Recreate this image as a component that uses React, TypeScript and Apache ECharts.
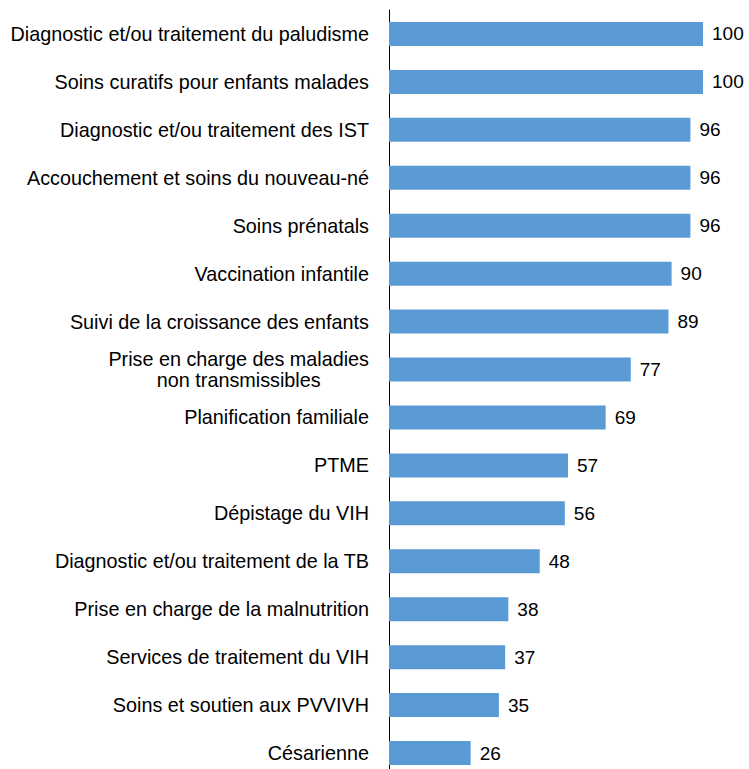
import React, { useEffect, useRef } from "react";
import * as echarts from "echarts";

const categories = [
  "Diagnostic et/ou traitement du paludisme",
  "Soins curatifs pour enfants malades",
  "Diagnostic et/ou traitement des IST",
  "Accouchement et soins du nouveau-né",
  "Soins prénatals",
  "Vaccination infantile",
  "Suivi de la croissance des enfants",
  "Prise en charge des maladies\nnon transmissibles",
  "Planification familiale",
  "PTME",
  "Dépistage du VIH",
  "Diagnostic et/ou traitement de la TB",
  "Prise en charge de la malnutrition",
  "Services de traitement du VIH",
  "Soins et soutien aux PVVIVH",
  "Césarienne",
];

const values = [100, 100, 96, 96, 96, 90, 89, 77, 69, 57, 56, 48, 38, 37, 35, 26];

const FONT = "'Liberation Sans', Arial, sans-serif";

export default function App() {
  const ref = useRef<HTMLDivElement>(null);
  useEffect(() => {
    if (!ref.current) return;
    const chart = echarts.init(ref.current, null, { renderer: "svg" });
    chart.setOption({
      animation: false,
      backgroundColor: "#ffffff",
      grid: { left: 389, top: 10, width: 314, height: 767, containLabel: false },
      xAxis: {
        type: "value",
        min: 0,
        max: 100,
        show: false,
      },
      yAxis: {
        type: "category",
        data: categories,
        inverse: true,
        axisLine: { show: true, lineStyle: { color: "#000000", width: 1 } },
        axisTick: { show: false },
        axisLabel: {
          color: "#000000",
          fontFamily: FONT,
          fontSize: 19.8,
          margin: 20,
          lineHeight: 21,
          formatter: (v: string) =>
            v.indexOf("\n") >= 0
              ? v
                  .split("\n")
                  .map((s) => `{c|${s}}`)
                  .join("\n")
              : v,
          rich: {
            c: {
              align: "center",
              color: "#000000",
              fontFamily: FONT,
              fontSize: 19.8,
              lineHeight: 21,
            },
          },
        },
      },
      series: [
        {
          type: "bar",
          data: values,
          barWidth: 24,
          itemStyle: { color: "#5B9BD5" },
          label: {
            show: true,
            position: "right",
            distance: 9,
            color: "#000000",
            fontFamily: FONT,
            fontSize: 19,
          },
        },
      ],
    });
    return () => chart.dispose();
  }, []);
  return (
    <div
      style={{
        position: "absolute",
        left: 0,
        top: 0,
        width: 749,
        height: 769,
        overflow: "hidden",
        background: "#ffffff",
      }}
    >
      <div ref={ref} style={{ width: 749, height: 785 }} />
    </div>
  );
}
